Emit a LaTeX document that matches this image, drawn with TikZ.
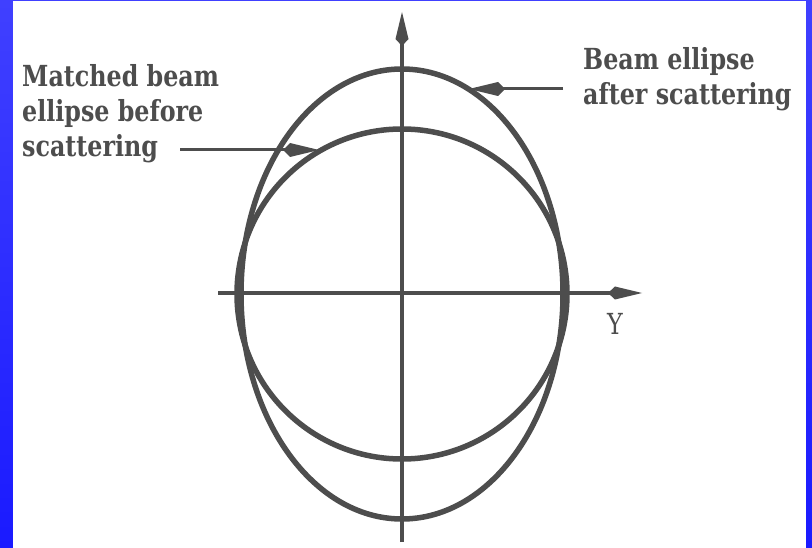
\documentclass[tikz,border=0pt]{standalone}
\usepackage{fontspec}
\usetikzlibrary{arrows.meta}
\newfontfamily\lblfont[FakeStretch=0.82]{DejaVu Serif}
\definecolor{ink}{HTML}{4D4D4D}
\definecolor{bluetop}{HTML}{4040FF}
\definecolor{bluebot}{HTML}{1A1AFF}
\begin{document}
\begin{tikzpicture}[x=1pt,y=-1pt,
  axis/.style={draw=ink,line width=4.5pt,-{Kite[length=34pt,width=13pt,inset=7pt]}},
  curve/.style={draw=ink,line width=5.5pt},
  pointer/.style={draw=ink,line width=3pt,-{Kite[length=36pt,width=14pt,inset=7pt]}},
  label/.style={text=ink,font=\lblfont\bfseries\fontsize{29}{35}\selectfont,align=left,inner sep=0pt,anchor=base west},
  axlabel/.style={text=ink,font=\lblfont\fontsize{29}{34}\selectfont,inner sep=0pt}]
\useasboundingbox (0,0) rectangle (812,548);
\shade[top color=bluetop,bottom color=bluebot] (0,0) rectangle (812,548);
\fill[white] (13,1) rectangle (806,548);
% ellipses
\draw[curve] (402,294) ellipse [x radius=161pt, y radius=225pt];
\draw[curve] (402,294) circle [radius=165pt];
% axes
\coordinate (vbot) at (402,542);
\coordinate (vtop) at (402,12);
\coordinate (hleft) at (218,293);
\coordinate (hright) at (642,293);
\draw[axis] (vbot) -- (vtop);
\draw[axis] (hleft) -- (hright);
\node[axlabel] (ylab) at (615,324) {Y};
% labels
\node[label] (before) at (22,157) {Matched beam\\ellipse before\\scattering};
\node[label] (after) at (583,105) {Beam ellipse\\after scattering};
\coordinate (bstart) at (180,150);
\coordinate (btip) at (319,150);
\coordinate (astart) at (563,89);
\coordinate (atip) at (469,89);
\draw[pointer] (bstart) -- (btip);
\draw[pointer] (astart) -- (atip);
\end{tikzpicture}
\end{document}
